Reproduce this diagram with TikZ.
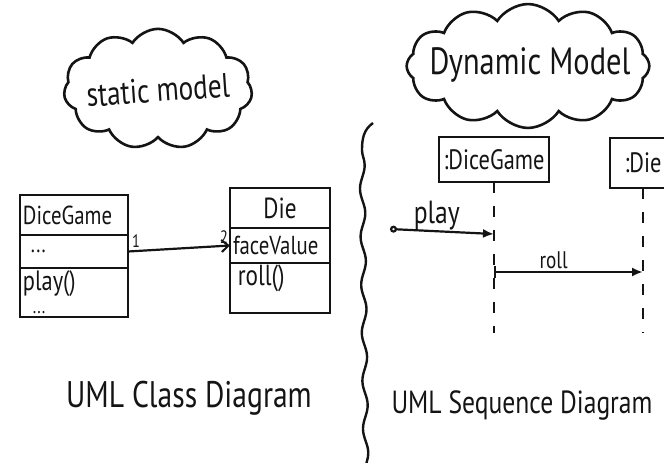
\documentclass[tikz,border=0pt]{standalone}
\usepackage{fontspec}
\setmainfont{PT Sans}[FakeStretch=0.8]
\usepackage{xcolor}
\usepackage{tikz}
\usetikzlibrary{shapes.symbols, arrows.meta, positioning, decorations.pathmorphing}
\definecolor{INK}{HTML}{141414}
\newcommand{\handsize}[1]{\fontsize{#1}{#1}\selectfont}
\tikzset{
  bubble/.style={
    cloud, cloud puffs=11, cloud puff arc=115, cloud ignores aspect,
    draw=INK, line width=2.6pt},
  bubbletext/.style={text=INK, inner sep=0pt},
  comp/.style={
    rectangle, outer sep=0pt, inner xsep=3pt, inner ysep=0pt,
    draw=INK, line width=2.4pt, align=left, text=INK},
  objbox/.style={
    rectangle, outer sep=0pt, inner sep=0pt,
    draw=INK, line width=2.4pt, text=INK, font=\handsize{28}},
  lifeline/.style={draw=INK, line width=2.4pt, dash pattern=on 11pt off 13pt},
  msg/.style={draw=INK, line width=2.2pt},
  assoc/.style={-{Straight Barb[length=7pt,width=12pt,line width=2pt]}, draw=INK, line width=2.2pt},
  divider/.style={draw=INK, line width=2.4pt,
    decoration={snake, amplitude=2.5pt, segment length=48pt}},
  caption/.style={text=INK, inner sep=0pt},
  lbl/.style={text=INK, inner sep=2pt},
}
\begin{document}
\begin{tikzpicture}[x=1pt, y=1pt, node distance=0pt]

  \clip (0,0) rectangle (664,-463);

  \node[bubble, inner xsep=64pt, inner ysep=34pt] (statcloud) at (158,-89) {};
  \node[bubbletext, rotate=4, font=\handsize{34}] (stattext) at (158,-90) {static model};
  \node[bubble, cloud puffs=12, inner xsep=84pt, inner ysep=33pt] (dyncloud) at (528,-66) {};
  \node[bubbletext, font=\handsize{38}] (dyntext) at (530,-65) {Dynamic Model};

  \node[comp, text width=102pt, minimum height=40pt, font=\handsize{26}]
    (dgname) at (74,-215) {DiceGame};
  \node[comp, text width=102pt, minimum height=33pt, font=\handsize{24}, below=of dgname]
    (dgattr) {\,\,...};
  \node[comp, text width=102pt, minimum height=49pt, font=\handsize{28}, below=of dgattr]
    (dgops) {play()\\[-5pt]{\handsize{20}\hspace{10pt}...}};

  \node[comp, text width=94pt, minimum height=40pt, align=center, font=\handsize{29}]
    (diename) at (280,-208) {Die};
  \node[comp, text width=94pt, minimum height=35pt, font=\handsize{26}, below=of diename]
    (dieattr) {faceValue};
  \node[comp, text width=94pt, minimum height=50pt, font=\handsize{29}, below=of dieattr]
    (dieops) {\,roll()\\[-4pt]\mbox{}};

  \node[objbox, minimum width=110pt, minimum height=45pt] (dgobj) at (494,-159.5) {:DiceGame};
  \node[objbox, minimum width=66pt, minimum height=50pt] (dieobj) at (643,-163) {:Die};

  \coordinate (dgend)    at (dgobj.south |- 0,-333);
  \coordinate (dieend)   at (dieobj.south |- 0,-333);
  \coordinate (playsrc)  at (390,-229);
  \coordinate (playdst)  at (dgobj.south |- 0,-234);
  \coordinate (rollsrc)  at (dgobj.south |- 0,-272);
  \coordinate (rolldst)  at (dieobj.south |- 0,-272);

  \coordinate (divtop)  at (373,-123);
  \coordinate (divbend) at (362,-150);
  \coordinate (divbot)  at (366,-470);

  \node[caption, anchor=base, font=\handsize{37}] (clscap) at (189,-407) {UML Class Diagram};
  \node[caption, anchor=base, font=\handsize{32}] (seqcap) at (522,-413) {UML Sequence Diagram};

  \draw[assoc] (dgattr.east) -- node[lbl, above, pos=0.08, font=\handsize{18}]{1}
    node[lbl, above left, pos=1, inner sep=1pt, font=\handsize{18}]{2} (dieattr.west);

  \draw[lifeline] (dgobj)  -- (dgend);
  \draw[lifeline] (dieobj) -- (dieend);

  \draw[msg, {Circle[open, length=7pt]}-{Latex[length=11pt,width=9pt]}] (playsrc)
    -- node[lbl, above, pos=0.45, inner sep=0pt, font=\handsize{32}]{play} (playdst);
  \draw[msg, {Bar[width=12pt]}-{Latex[length=11pt,width=9pt]}] (rollsrc)
    -- node[lbl, above, pos=0.4, font=\handsize{24}]{roll} (rolldst);

  \draw[divider] (divtop) to[out=215, in=90] (divbend) decorate {-- (divbot)};

\end{tikzpicture}
\end{document}
